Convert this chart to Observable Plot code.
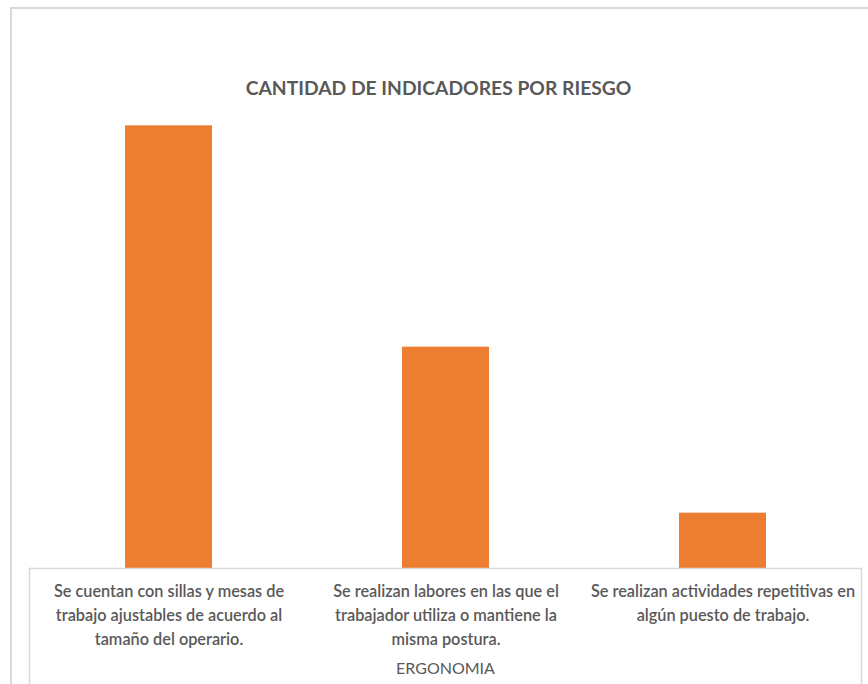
<!DOCTYPE html>
<html>
<head>
<meta charset="utf-8">
<script src="https://cdn.jsdelivr.net/npm/d3@7"></script>
<script src="https://cdn.jsdelivr.net/npm/@observablehq/plot@0.6"></script>
<style>
  html, body { margin: 0; padding: 0; background: #fff; }
  #wrap { position: relative; width: 868px; height: 684px; overflow: hidden; }
  #border { position: absolute; left: 10px; top: 7px; right: -10px; bottom: -10px;
            border-left: 2px solid #d9d9d9; border-top: 2px solid #d9d9d9; }
  #chart { position: absolute; left: 0; top: 0; }
</style>
</head>
<body>
<div id="wrap"><div id="border"></div><div id="chart"></div></div>
<script>
const title = "CANTIDAD DE INDICADORES POR RIESGO";
const groupLabel = "ERGONOMIA";
const categories = [
  "Se cuentan con sillas y mesas de trabajo ajustables de acuerdo al tamaño del operario.",
  "Se realizan labores en las que el trabajador utiliza o mantiene la misma postura.",
  "Se realizan actividades repetitivas en algún puesto de trabajo."
];
const tickLabels = [
  "Se cuentan con sillas y mesas de\ntrabajo ajustables de acuerdo al\ntamaño del operario.",
  "Se realizan labores en las que el\ntrabajador utiliza o mantiene la\nmisma postura.",
  "Se realizan actividades repetitivas en\nalgún puesto de trabajo."
];
const values = [8, 4, 1];

const data = categories.map((c, i) => ({category: c, value: values[i]}));
const FONT = "Lato, 'Open Sans', sans-serif";

const chart = Plot.plot({
  width: 868,
  height: 684,
  marginLeft: 29,
  marginRight: 7,
  marginTop: 70,
  marginBottom: 116,
  style: {fontFamily: FONT, color: "#595959", background: "transparent"},
  x: {domain: categories, paddingInner: 0.686, paddingOuter: 0.343, label: null},
  y: {domain: [0, 9], axis: null},
  marks: [
    Plot.barY(data, {x: "category", y: "value", fill: "#ED7D31"}),
    Plot.ruleY([0], {stroke: "#d9d9d9", strokeWidth: 1.5}),
    Plot.frame({anchor: "left", stroke: "#d9d9d9", strokeWidth: 1.5, insetTop: 498, insetBottom: -120}),
    Plot.frame({anchor: "right", stroke: "#d9d9d9", strokeWidth: 1.5, insetTop: 498, insetBottom: -120}),
    Plot.axisX({
      tickSize: 0, tickPadding: 12, fontSize: 16.3, lineHeight: 1.46,
      fontWeight: 600,
      tickFormat: (d) => tickLabels[categories.indexOf(d)],
      fill: "#595959", label: null
    }),
    Plot.text([groupLabel], {frameAnchor: "bottom", dy: 105, text: d => d,
      fontSize: 16, fill: "#595959"}),
    Plot.text([title], {frameAnchor: "top", dy: 11, text: d => d,
      fontSize: 19.3, fontWeight: "bold", fill: "#595959", dx: -7})
  ]
});
document.getElementById("chart").appendChild(chart);
</script>
</body>
</html>
